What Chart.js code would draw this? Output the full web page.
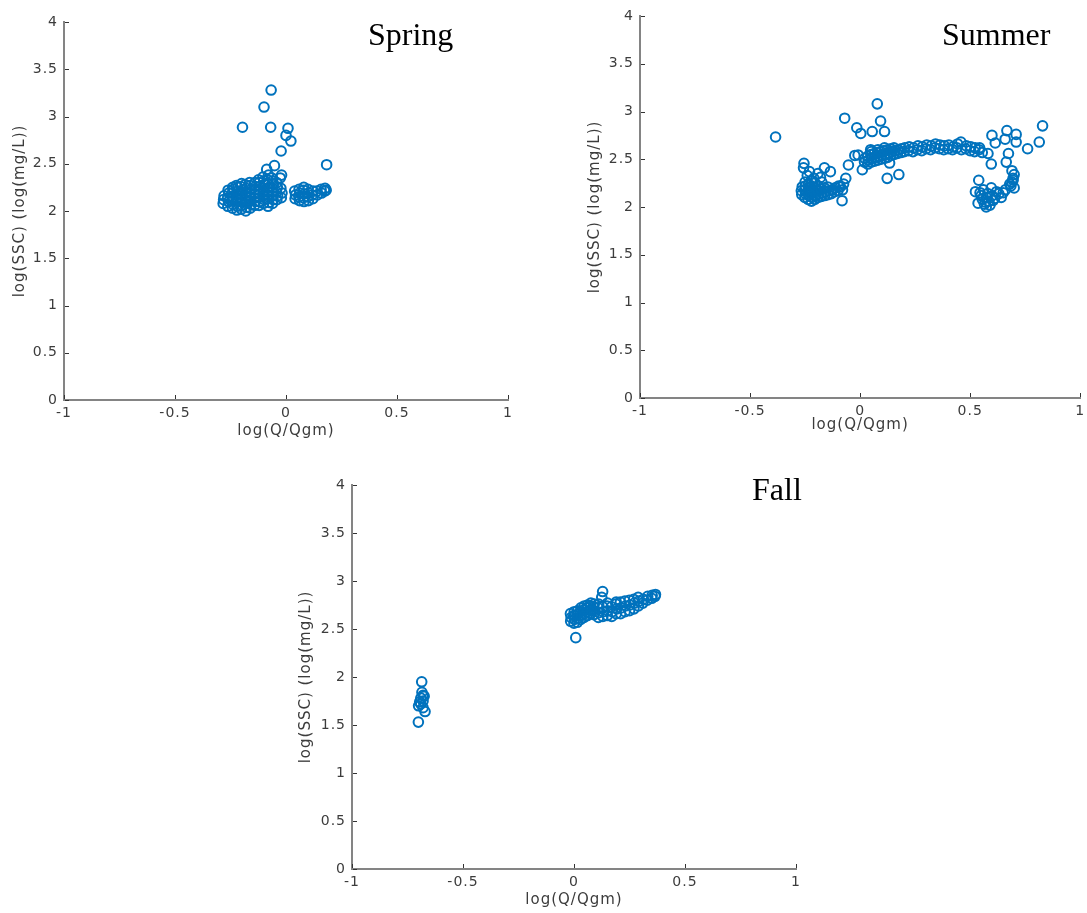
<!DOCTYPE html>
<html>
<head>
<meta charset="utf-8">
<script src="https://cdn.jsdelivr.net/npm/chart.js@4.4.0/dist/chart.umd.min.js"></script>
<style>
  body { margin: 0; background: #fff; width: 1087px; height: 913px; position: relative; overflow: hidden; }
  .panel { position: absolute; }
  .season { position: absolute; font-family: "Liberation Serif", "Times New Roman", serif; font-size: 32px; line-height: 1; color: #000; white-space: nowrap; }
</style>
</head>
<body>
<div class="panel" style="left:0;top:0"><canvas id="spring" width="520" height="440"></canvas></div>
<div class="panel" style="left:560px;top:0"><canvas id="summer" width="527" height="434"></canvas></div>
<div class="panel" style="left:280px;top:460px"><canvas id="fall" width="530" height="449"></canvas></div>
<div class="season" id="t0" style="left:368px;top:18px"></div>
<div class="season" id="t1" style="left:942px;top:18px"></div>
<div class="season" id="t2" style="left:752px;top:473px"></div>
<script>
const seasons = ["Spring", "Summer", "Fall"];
const xTickValues = [-1, -0.5, 0, 0.5, 1];
const yTickValues = [0, 0.5, 1, 1.5, 2, 2.5, 3, 3.5, 4];
const xTitle = "log(Q/Qgm)";
const yTitle = "log(SSC) (log(mg/L))";

// [log(Q/Qgm), log(SSC)]
const springPts = [
  [-0.067,3.28],[-0.099,3.10],[-0.196,2.886],[-0.069,2.886],[0.009,2.875],[0.000,2.80],[0.022,2.74],
  [-0.022,2.635],[-0.052,2.48],[-0.087,2.44],[0.183,2.49],[-0.020,2.38],[-0.026,2.35],
  [-0.283,2.08],[-0.281,2.12],[-0.279,2.16],
  [-0.262,2.05],[-0.259,2.10],[-0.263,2.14],[-0.258,2.19],[-0.261,2.22],
  [-0.241,2.03],[-0.238,2.07],[-0.243,2.11],[-0.239,2.15],[-0.242,2.19],[-0.237,2.23],[-0.240,2.25],
  [-0.221,2.01],[-0.219,2.05],[-0.223,2.09],[-0.218,2.13],[-0.222,2.17],[-0.220,2.21],[-0.217,2.25],[-0.224,2.27],
  [-0.201,2.02],[-0.198,2.06],[-0.203,2.10],[-0.199,2.14],[-0.202,2.18],[-0.197,2.22],[-0.204,2.26],[-0.200,2.29],
  [-0.181,2.00],[-0.178,2.04],[-0.183,2.08],[-0.179,2.12],[-0.182,2.16],[-0.177,2.20],[-0.180,2.24],[-0.184,2.28],
  [-0.161,2.03],[-0.158,2.07],[-0.163,2.11],[-0.159,2.15],[-0.162,2.19],[-0.157,2.23],[-0.160,2.27],[-0.164,2.30],
  [-0.141,2.06],[-0.138,2.10],[-0.143,2.14],[-0.139,2.18],[-0.142,2.22],[-0.137,2.26],[-0.140,2.30],
  [-0.121,2.06],[-0.118,2.10],[-0.123,2.14],[-0.119,2.18],[-0.122,2.22],[-0.117,2.26],[-0.120,2.30],[-0.124,2.33],
  [-0.101,2.08],[-0.098,2.12],[-0.103,2.16],[-0.099,2.20],[-0.102,2.24],[-0.097,2.28],[-0.100,2.32],[-0.104,2.36],
  [-0.081,2.05],[-0.078,2.09],[-0.083,2.13],[-0.079,2.17],[-0.082,2.21],[-0.077,2.25],[-0.080,2.29],[-0.084,2.33],[-0.079,2.38],
  [-0.061,2.08],[-0.058,2.12],[-0.063,2.16],[-0.059,2.20],[-0.062,2.24],[-0.057,2.28],[-0.060,2.32],[-0.064,2.35],
  [-0.041,2.12],[-0.038,2.16],[-0.043,2.20],[-0.039,2.25],[-0.042,2.30],
  [-0.021,2.14],[-0.018,2.19],[-0.023,2.24],
  [0.041,2.13],[0.043,2.17],[0.039,2.21],
  [0.061,2.11],[0.058,2.15],[0.062,2.19],[0.059,2.23],
  [0.081,2.10],[0.078,2.14],[0.082,2.18],[0.079,2.22],[0.080,2.25],
  [0.101,2.11],[0.098,2.15],[0.102,2.19],[0.099,2.23],
  [0.121,2.13],[0.118,2.17],[0.122,2.21],
  [0.141,2.17],[0.139,2.21],
  [0.160,2.19],[0.158,2.23],
  [0.174,2.21],[0.176,2.24],[0.181,2.22]
];

const summerPts = [
  [-0.384,2.733],[-0.070,2.93],[0.078,3.08],[0.093,2.90],[-0.015,2.83],[0.003,2.77],[0.055,2.79],[0.111,2.79],
  [-0.024,2.54],[-0.053,2.44],[0.010,2.39],[0.123,2.30],[0.176,2.34],[0.048,2.60],[0.134,2.46],[-0.009,2.545],
  [-0.255,2.457],[-0.257,2.41],[-0.162,2.41],[-0.135,2.37],[-0.192,2.35],[-0.230,2.37],[-0.240,2.33],[-0.210,2.30],[-0.180,2.31],
  [-0.065,2.30],[-0.080,2.18],[-0.082,2.066],[-0.075,2.24],[-0.090,2.21],
  [-0.265,2.13],[-0.267,2.17],[-0.263,2.21],
  [-0.251,2.10],[-0.248,2.14],[-0.252,2.18],[-0.249,2.22],[-0.250,2.26],
  [-0.236,2.08],[-0.233,2.12],[-0.237,2.16],[-0.234,2.20],[-0.235,2.24],
  [-0.221,2.06],[-0.218,2.10],[-0.222,2.14],[-0.219,2.18],[-0.220,2.22],[-0.223,2.27],
  [-0.206,2.08],[-0.203,2.12],[-0.207,2.16],[-0.204,2.20],[-0.205,2.25],
  [-0.191,2.10],[-0.188,2.14],[-0.192,2.18],[-0.189,2.22],
  [-0.176,2.11],[-0.173,2.15],[-0.177,2.19],[-0.174,2.26],
  [-0.161,2.12],[-0.158,2.16],[-0.162,2.20],
  [-0.146,2.13],[-0.143,2.17],[-0.147,2.21],
  [-0.131,2.14],[-0.128,2.18],
  [-0.116,2.16],[-0.113,2.20],
  [-0.101,2.17],[-0.098,2.22],
  [0.020,2.47],[0.022,2.51],
  [0.035,2.45],[0.037,2.49],[0.034,2.53],
  [0.050,2.47],[0.052,2.51],[0.049,2.55],[0.051,2.58],
  [0.065,2.48],[0.067,2.52],[0.064,2.56],
  [0.080,2.49],[0.082,2.53],[0.079,2.57],[0.081,2.60],
  [0.095,2.50],[0.097,2.54],[0.094,2.58],
  [0.110,2.51],[0.112,2.55],[0.109,2.59],[0.111,2.62],
  [0.125,2.52],[0.127,2.56],[0.124,2.60],
  [0.140,2.54],[0.142,2.58],[0.139,2.61],
  [0.155,2.55],[0.157,2.59],[0.154,2.62],
  [0.170,2.56],[0.172,2.60],
  [0.185,2.57],[0.187,2.61],
  [0.200,2.58],[0.203,2.62],
  [0.220,2.59],[0.223,2.63],
  [0.240,2.58],[0.243,2.62],
  [0.260,2.60],[0.263,2.64],
  [0.280,2.59],[0.283,2.63],
  [0.300,2.61],[0.303,2.65],
  [0.320,2.60],[0.323,2.64],
  [0.340,2.62],[0.343,2.66],
  [0.360,2.61],[0.363,2.65],
  [0.380,2.60],[0.383,2.64],
  [0.400,2.61],[0.403,2.65],
  [0.420,2.60],[0.423,2.63],
  [0.440,2.62],[0.443,2.66],
  [0.460,2.60],[0.458,2.68],
  [0.480,2.61],[0.483,2.64],
  [0.500,2.59],[0.503,2.63],
  [0.520,2.58],[0.523,2.62],
  [0.540,2.60],[0.543,2.62],
  [0.555,2.57],
  [0.829,2.85],[0.814,2.68],[0.761,2.61],[0.667,2.80],[0.709,2.76],[0.709,2.68],[0.659,2.71],[0.599,2.75],
  [0.614,2.67],[0.581,2.56],[0.596,2.45],[0.674,2.56],[0.664,2.47],
  [0.685,2.22],[0.690,2.26],[0.695,2.30],[0.700,2.34],[0.690,2.38],[0.700,2.20],[0.680,2.24],[0.695,2.28],
  [0.524,2.16],[0.536,2.04],[0.539,2.28],[0.550,2.12],[0.555,2.08],[0.560,2.18],[0.565,2.03],[0.573,2.00],
  [0.575,2.10],[0.580,2.14],[0.585,2.06],[0.596,2.20],[0.600,2.12],[0.605,2.07],[0.611,2.09],[0.620,2.16],
  [0.630,2.14],[0.641,2.10],[0.650,2.15],[0.660,2.18],[0.545,2.15],[0.570,2.05],[0.590,2.02]
];

const fallPts = [
  [0.008,2.41],[0.129,2.89],[0.125,2.83],
  [-0.015,2.58],[-0.013,2.62],[-0.016,2.66],
  [0.000,2.56],[0.002,2.60],[-0.001,2.64],[0.001,2.68],
  [0.015,2.57],[0.017,2.61],[0.014,2.65],[0.016,2.69],
  [0.030,2.60],[0.032,2.64],[0.029,2.68],[0.031,2.72],
  [0.045,2.62],[0.047,2.66],[0.044,2.70],[0.046,2.74],
  [0.060,2.64],[0.062,2.68],[0.059,2.72],[0.061,2.75],
  [0.075,2.66],[0.077,2.70],[0.074,2.74],[0.076,2.77],
  [0.090,2.65],[0.092,2.69],[0.089,2.73],[0.091,2.76],
  [0.110,2.62],[0.112,2.67],[0.109,2.72],[0.111,2.76],
  [0.130,2.63],[0.132,2.68],[0.129,2.73],
  [0.150,2.64],[0.152,2.69],[0.149,2.74],[0.151,2.77],
  [0.170,2.63],[0.172,2.68],[0.169,2.73],
  [0.190,2.66],[0.192,2.71],[0.189,2.76],[0.190,2.78],
  [0.210,2.66],[0.212,2.72],[0.209,2.78],
  [0.230,2.68],[0.232,2.74],[0.229,2.79],
  [0.250,2.69],[0.252,2.75],[0.249,2.80],
  [0.270,2.71],[0.272,2.77],[0.269,2.81],
  [0.290,2.74],[0.292,2.79],[0.289,2.83],
  [0.310,2.77],[0.312,2.81],
  [0.330,2.80],[0.332,2.84],
  [0.350,2.82],[0.352,2.85],
  [0.365,2.84],[0.367,2.86],
  [-0.686,1.95],[-0.701,1.53],[-0.671,1.64],[-0.700,1.70],[-0.690,1.72],[-0.680,1.75],
  [-0.690,1.78],[-0.680,1.81],[-0.685,1.84],[-0.675,1.80],[-0.695,1.74],[-0.680,1.68]
];

const blue = "#0072BD";
const axisGrey = "#848484";
const textGrey = "#3c3c3c";
const tickFont = { family: "DejaVu Sans", size: 14 };
const titleFont = { family: "DejaVu Sans", size: 15 };

// MATLAB text is a bit wider than DejaVu, add some letter spacing
const spacing = {
  id: "spacing",
  beforeUpdate(c) { c.ctx.letterSpacing = "1px"; },
  beforeLayout(c) { c.ctx.letterSpacing = "1px"; },
  beforeDraw(c) { c.ctx.letterSpacing = "1px"; }
};

// tick marks pointing into the plot
const innerTicks = {
  id: "innerTicks",
  afterDraw(c) {
    const { ctx, chartArea: a, scales: { x, y } } = c;
    ctx.save();
    ctx.strokeStyle = "#333";
    ctx.lineWidth = 1;
    ctx.beginPath();
    y.ticks.forEach(t => {
      const p = Math.round(y.getPixelForValue(t.value)) + 0.5;
      ctx.moveTo(a.left + 1, p);
      ctx.lineTo(a.left + 5, p);
    });
    x.ticks.forEach(t => {
      const p = Math.round(x.getPixelForValue(t.value)) + 0.5;
      ctx.moveTo(p, a.bottom - 1);
      ctx.lineTo(p, a.bottom - 5);
    });
    ctx.stroke();
    ctx.restore();
  }
};

const plainNumber = v => String(v);

function makeChart(id, pts, cfg) {
  return new Chart(document.getElementById(id), {
    type: "scatter",
    data: {
      datasets: [{
        data: pts.map(([x, y]) => ({ x, y })),
        pointStyle: "circle",
        pointRadius: 4.8,
        pointHoverRadius: 4.8,
        pointBorderWidth: 2,
        pointBorderColor: blue,
        pointBackgroundColor: "rgba(0,0,0,0)"
      }]
    },
    options: {
      responsive: false,
      animation: false,
      events: [],
      layout: { padding: { left: 0, top: cfg.top, right: cfg.right, bottom: 0 } },
      plugins: { legend: { display: false }, tooltip: { enabled: false } },
      scales: {
        x: {
          type: "linear", min: -1, max: 1,
          afterBuildTicks: s => { s.ticks = xTickValues.map(v => ({ value: v })); },
          afterFit: s => { s.height = cfg.xh; s.paddingLeft = 0; s.paddingRight = 0; },
          grid: { display: false, drawTicks: false },
          border: { color: axisGrey, width: 2 },
          ticks: { color: textGrey, font: tickFont, padding: 5, maxRotation: 0, autoSkip: false, callback: plainNumber },
          title: { display: true, text: xTitle, color: textGrey, font: titleFont, padding: 0 }
        },
        y: {
          type: "linear", min: 0, max: 4,
          afterBuildTicks: s => { s.ticks = yTickValues.map(v => ({ value: v })); },
          afterFit: s => { s.width = cfg.yw; s.paddingTop = 0; s.paddingBottom = 0; },
          grid: { display: false, drawTicks: false },
          border: { color: axisGrey, width: 2 },
          ticks: { color: textGrey, font: tickFont, padding: 6, autoSkip: false, callback: plainNumber },
          title: { display: true, text: yTitle, color: textGrey, font: titleFont, padding: { top: cfg.yt, bottom: 0 } }
        }
      }
    },
    plugins: [spacing, innerTicks]
  });
}

makeChart("spring", springPts, { top: 22, right: 12, xh: 40, yw: 64, yt: 11 });
makeChart("summer", summerPts, { top: 16, right: 3, xh: 36, yw: 80, yt: 26 });
makeChart("fall", fallPts, { top: 25, right: 14, xh: 40, yw: 72, yt: 17 });

seasons.forEach((s, i) => { document.getElementById("t" + i).textContent = s; });
</script>
</body>
</html>
